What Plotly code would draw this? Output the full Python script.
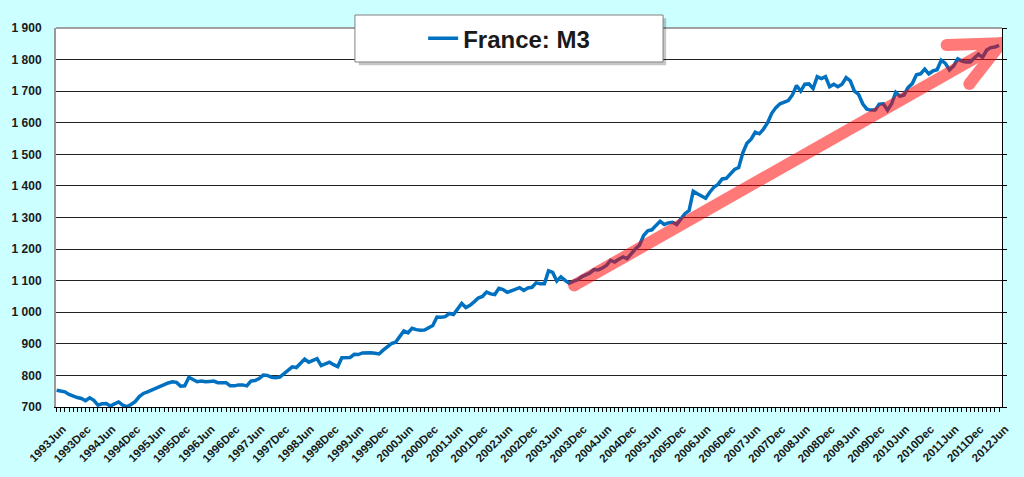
import plotly.graph_objects as go

# France M3, monthly, 1993 Jun -> 2012 Jun
m3 = [
    753, 750, 748, 740, 734, 730, 727,                      # 1993 Jun-Dec
    720, 729, 721, 706, 710, 711, 703, 710, 716, 706, 701, 708,   # 1994
    717, 733, 743, 748, 754, 759, 766, 773, 776, 780, 778, 766,   # 1995
    767, 794, 786, 780, 782, 780, 781, 782, 777, 778, 777, 767,   # 1996
    767, 770, 770, 767, 782, 784, 790, 801, 800, 794, 793, 795,   # 1997
    806, 818, 827, 825, 838, 852, 842, 848, 853, 831, 836, 842,   # 1998
    834, 828, 856, 856, 857, 867, 866, 871, 872, 872, 870, 868,   # 1999
    880, 892, 901, 905, 925, 941, 935, 949, 945, 943, 944, 950,   # 2000
    958, 985, 984, 986, 996, 993, 1012, 1028, 1015, 1022, 1033, 1045,  # 2001
    1050, 1064, 1058, 1056, 1076, 1072, 1063, 1068, 1073, 1078, 1069, 1077,  # 2002
    1079, 1093, 1090, 1090, 1131, 1126, 1099, 1112, 1101, 1092, 1098, 1102,  # 2003
    1112, 1119, 1124, 1135, 1134, 1140, 1148, 1164, 1159, 1168, 1175, 1170,  # 2004
    1186, 1200, 1212, 1243, 1258, 1261, 1275, 1288, 1278, 1283, 1285, 1278,  # 2005
    1295, 1312, 1322, 1383, 1375, 1368, 1361, 1380, 1396, 1405, 1422, 1424,  # 2006
    1440, 1452, 1458, 1505, 1535, 1548, 1570, 1565, 1580, 1600, 1630, 1648,  # 2007
    1660, 1665, 1670, 1688, 1718, 1700, 1722, 1723, 1708, 1746, 1740, 1746,  # 2008
    1714, 1722, 1714, 1722, 1743, 1733, 1700, 1690, 1660, 1643, 1640, 1640,  # 2009
    1659, 1660, 1640, 1660, 1696, 1684, 1688, 1712, 1724, 1752, 1755, 1770,  # 2010
    1755, 1764, 1768, 1798, 1788, 1767, 1780, 1802, 1795, 1792, 1792, 1805,  # 2011
    1817, 1807, 1830, 1838, 1840, 1845,                     # 2012 Jan-Jun
]
months = list(range(len(m3)))

tick_labels = []
for yr in range(1993, 2013):
    tick_labels.append(f"{yr}Jun")
    if yr < 2012:
        tick_labels.append(f"{yr}Dec")
tick_pos = list(range(0, len(m3), 6))

# trend arrow (shaft + two barbs), in month index / value units
arrow_x = [125.2, 228.5, None, 215.3, 228.5, None, 220.8, 228.5]
arrow_y = [1085, 1852, None, 1846, 1852, None, 1723, 1852]

bold = dict(family="Liberation Sans, Arial", color="#1a1a1a", weight="bold")

fig = go.Figure()
fig.add_trace(go.Scatter(x=months, y=m3, mode="lines", name="France: M3",
                         line=dict(color="#0070C0", width=3.5)))
fig.add_trace(go.Scatter(x=arrow_x, y=arrow_y, mode="lines+markers", yaxis="y2",
                         showlegend=False, hoverinfo="skip", opacity=0.52,
                         line=dict(color="red", width=12),
                         marker=dict(color="red", size=12)))

# legend box + shadow
shapes = [
    dict(type="rect", xref="paper", yref="paper", x0=0.320, x1=0.645, y0=0.902, y1=1.026,
         fillcolor="rgba(0,0,0,0.22)", line=dict(width=0), layer="above"),
    dict(type="rect", xref="paper", yref="paper", x0=0.316, x1=0.6417, y0=0.9103, y1=1.0343,
         fillcolor="white", line=dict(color="#808080", width=1), layer="above"),
    dict(type="line", xref="paper", yref="paper", x0=0, x1=1, y0=1, y1=1,
         line=dict(color="#a0a0a0", width=2), layer="below"),
]

fig.update_layout(
    width=1024, height=477,
    margin=dict(l=56, r=22, t=28, b=70),
    paper_bgcolor="#CCFFFF", plot_bgcolor="white",
    separators=", ",
    showlegend=True,
    legend=dict(x=0.479, y=0.972, xanchor="center", yanchor="middle",
                bgcolor="rgba(0,0,0,0)", borderwidth=0, itemwidth=30,
                font=dict(size=24, **bold)),
    shapes=shapes,
    xaxis=dict(range=[-0.15, 228.7], tickmode="array", tickvals=tick_pos, ticktext=tick_labels,
               tickangle=-45, tickfont=dict(size=11.5, **bold),
               ticklabelstandoff=6, ticklabelshift=6,
               ticks="outside", ticklen=4, tickcolor="black",
               minor=dict(ticks="outside", ticklen=4, tick0=0, dtick=1, tickcolor="black"),
               showgrid=False, zeroline=False,
               showline=True, linecolor="black", linewidth=1),
    yaxis=dict(range=[700, 1900], dtick=100, tickformat=",d",
               tickfont=dict(size=12, **bold), ticklabelstandoff=10,
               showgrid=True, gridcolor="#222", gridwidth=1, zeroline=False,
               showline=True, linecolor="#999", linewidth=2, ticks=""),
    yaxis2=dict(range=[700, 1900], dtick=100, overlaying="y", side="right",
                showticklabels=False, showgrid=False, zeroline=False,
                ticks="outside", ticklen=4, tickcolor="black",
                showline=True, linecolor="black", linewidth=1),
)

fig.write_html("out.html", config={"displayModeBar": False},
               post_script="document.body.style.margin='0';")
